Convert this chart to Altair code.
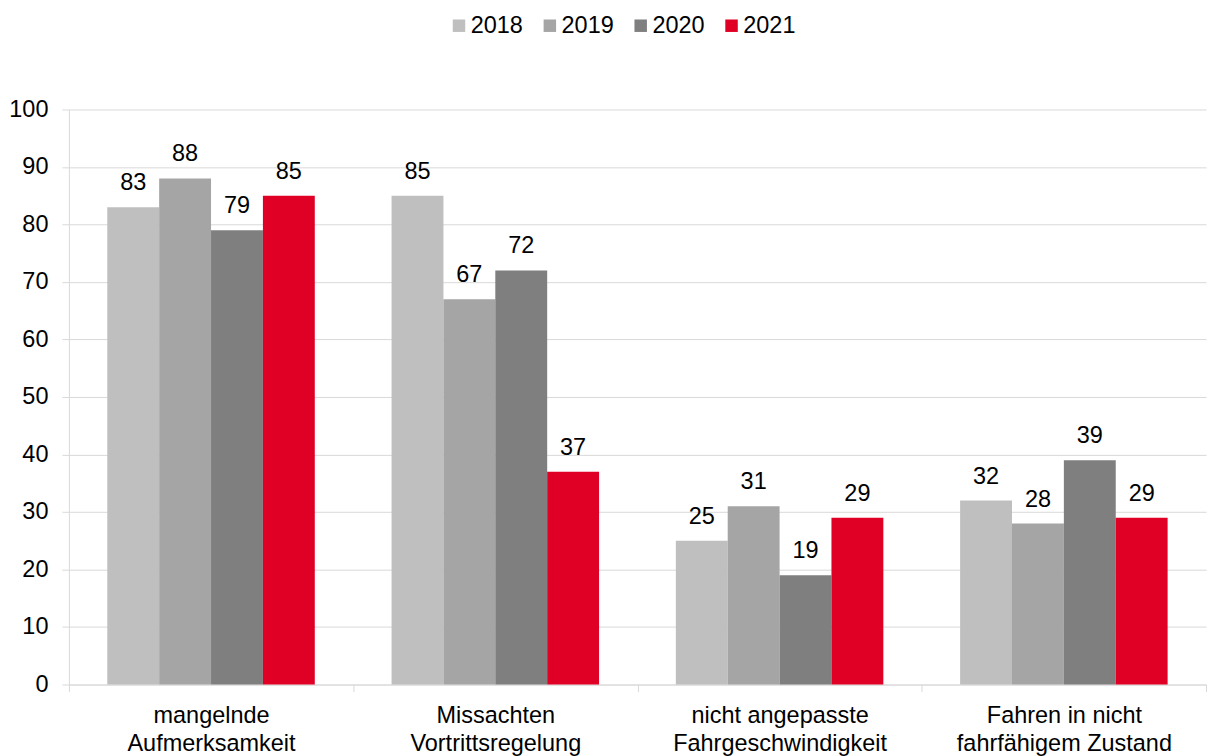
import altair as alt
import pandas as pd

categories = ["mangelnde\nAufmerksamkeit", "Missachten\nVortrittsregelung",
              "nicht angepasste\nFahrgeschwindigkeit", "Fahren in nicht\nfahrfähigem Zustand"]
years = ["2018", "2019", "2020", "2021"]
values = {
    "2018": [83, 85, 25, 32],
    "2019": [88, 67, 31, 28],
    "2020": [79, 72, 19, 39],
    "2021": [85, 37, 29, 29],
}
colors = ["#BFBFBF", "#A5A5A5", "#7F7F7F", "#E10025"]

rows = []
for y in years:
    for c, v in zip(categories, values[y]):
        rows.append({"cat": c, "year": y, "value": v})
df = pd.DataFrame(rows)

FONT = "Liberation Sans"
FS = 23.5

x = alt.X("cat:N", sort=categories, title=None,
          scale=alt.Scale(paddingInner=0, paddingOuter=0),
          axis=alt.Axis(labelAngle=0, labelExpr="split(datum.label, '\\n')",
                        labelFontSize=FS, labelFont=FONT, labelColor="#000000",
                        labelLineHeight=28, labelPadding=12, labelLimit=0,
                        tickBand="extent", tickSize=7, tickColor="#D9D9D9",
                        domainColor="#D9D9D9", grid=False))
xo_scale = alt.Scale(paddingInner=0, paddingOuter=0.74)
y = alt.Y("value:Q", title=None,
          scale=alt.Scale(domain=[0, 100], nice=False),
          axis=alt.Axis(values=list(range(0, 101, 10)), labelFontSize=FS, labelFont=FONT,
                        labelColor="#000000", labelPadding=14, tickSize=7,
                        tickColor="#D9D9D9", domainColor="#D9D9D9",
                        gridColor="#D9D9D9", grid=True))

bars = alt.Chart(df).mark_bar().encode(
    x=x, xOffset=alt.XOffset("year:N", sort=years, scale=xo_scale), y=y,
    color=alt.Color("year:N", sort=years,
                    scale=alt.Scale(domain=years, range=colors),
                    legend=alt.Legend(title=None, orient="none", direction="horizontal",
                                      legendX=379, legendY=-96, padding=0,
                                      symbolType="square", symbolSize=156,
                                      symbolStrokeWidth=0, labelFontSize=FS,
                                      labelFont=FONT, labelColor="#000000",
                                      labelOffset=0, columnPadding=15)),
)

labels = alt.Chart(df).mark_text(fontSize=FS, font=FONT, color="#000000",
                                 baseline="alphabetic", dy=-17).encode(
    x=alt.X("cat:N", sort=categories),
    xOffset=alt.XOffset("year:N", sort=years, scale=xo_scale),
    y="value:Q", text="value:Q")

chart = alt.layer(bars, labels).properties(
    width=1139, height=576,
    padding={"left": 0, "top": 5, "right": 0, "bottom": 0},
).configure_view(stroke=None)

chart.save("out.html", embed_options={"renderer": "svg", "actions": False})
